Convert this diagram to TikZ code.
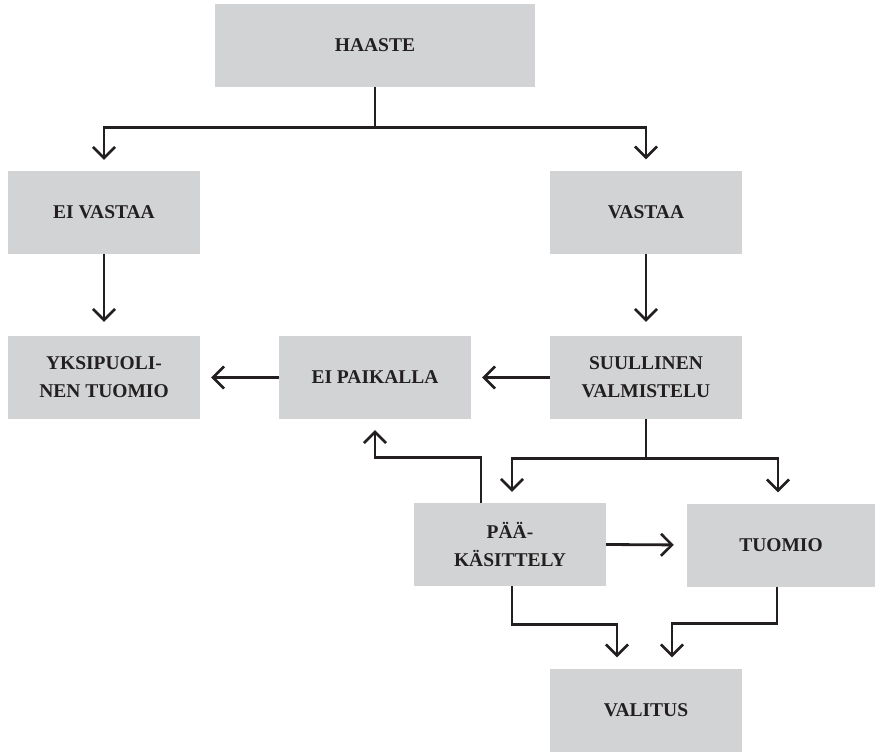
\documentclass[tikz,border=0pt]{standalone}
\usepackage{fontspec}
\setmainfont{Liberation Serif}
\usetikzlibrary{arrows.meta,calc}
\definecolor{boxgray}{HTML}{D1D3D4}
\definecolor{ink}{HTML}{231F20}
\tikzset{
  box/.style={fill=boxgray, draw=none, minimum width=192pt, minimum height=83pt,
    inner sep=0pt, align=center, text=ink,
    font=\fontsize{19.5}{28}\selectfont\bfseries},
  conn/.style={draw=ink, line width=2.8pt},
  arr/.style={conn, -{Straight Barb[length=11pt,width=22pt,line width=2.6pt]}, shorten >=11pt}
}
\begin{document}
\begin{tikzpicture}[x=1pt,y=-1pt]
\useasboundingbox (0,0) rectangle (875,752);
\node[box, minimum width=320pt] (haaste) at (375,45.5) {HAASTE};
\node[box] (eivastaa) at (104,212.5) {EI VASTAA};
\node[box] (vastaa) at (646,212) {VASTAA};
\node[box] (yksi) at (104,377.5) {YKSIPUOLI-\\NEN TUOMIO};
\node[box] (eipaik) at (375,377.5) {EI PAIKALLA};
\node[box] (suull) at (646,377.5) {SUULLINEN\\VALMISTELU};
\node[box] (paa) at (510,544.5) {PÄÄ-\\KÄSITTELY};
\node[box, minimum width=188pt] (tuomio) at (781,545) {TUOMIO};
\node[box] (valitus) at (646,710) {VALITUS};

\coordinate (h1) at ($(haaste.south)+(0,40)$);
\draw[conn] (haaste.south) -- (h1);
\draw[arr] (h1) -| (eivastaa.north);
\draw[arr] (h1) -| (vastaa.north);
\draw[arr, shorten >=14pt] (eivastaa.south) -- (yksi.north);
\draw[arr, shorten >=14pt] (vastaa.south) -- (suull.north);
\draw[arr] (suull.west) -- (eipaik.east);
\draw[arr] (eipaik.west) -- (yksi.east);

\coordinate (s1) at ($(suull.south)+(0,39)$);
\draw[conn] (suull.south) -- (s1);
\draw[arr] (s1) -| ($(paa.north)+(2,0)$);
\draw[arr] (s1) -| ($(tuomio.north)+(-3,0)$);

\draw[arr] ($(paa.north)+(-29,0)$) -- ++(0,-45) -| (eipaik.south);
\draw[arr, shorten >=13pt] (paa.east) -- (tuomio.west);

\draw[arr] ($(paa.south)+(2,0)$) -- ++(0,38) -| ($(valitus.north)+(-29,0)$);
\draw[arr] ($(tuomio.south)+(-4,0)$) -- ++(0,37) -| ($(valitus.north)+(26,0)$);
\end{tikzpicture}
\end{document}
